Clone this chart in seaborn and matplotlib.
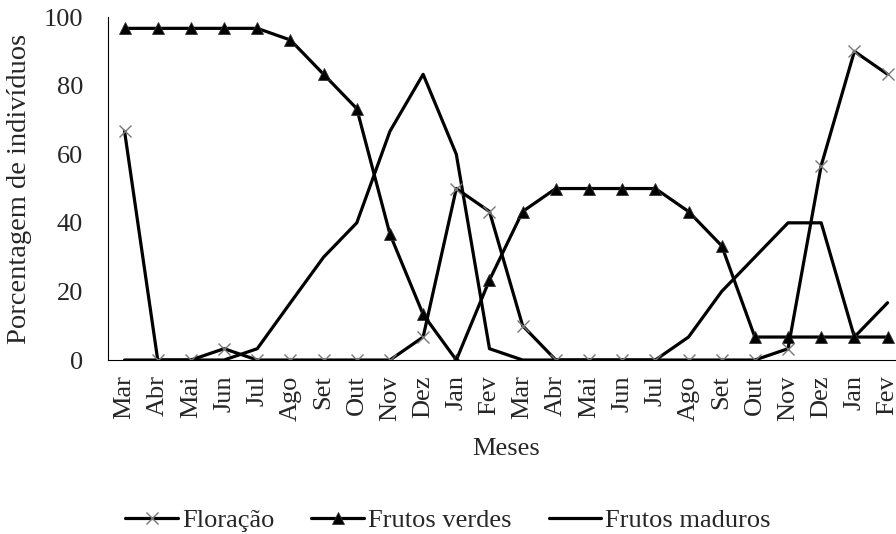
import numpy as np
import pandas as pd
import seaborn as sns
import matplotlib.pyplot as plt

meses = ["Mar", "Abr", "Mai", "Jun", "Jul", "Ago", "Set", "Out", "Nov", "Dez",
         "Jan", "Fev", "Mar", "Abr", "Mai", "Jun", "Jul", "Ago", "Set", "Out",
         "Nov", "Dez", "Jan", "Fev"]

floracao = [66.7, 0, 0, 3.3, 0, 0, 0, 0, 0, 6.7, 50, 43.3,
            10, 0, 0, 0, 0, 0, 0, 0, 3.3, 56.7, 90, 83.3]
frutos_verdes = [96.7, 96.7, 96.7, 96.7, 96.7, 93.3, 83.3, 73.3, 36.7, 13.3, 0, 23.3,
                 43.3, 50, 50, 50, 50, 43.3, 33.3, 6.7, 6.7, 6.7, 6.7, 6.7]
frutos_maduros = [0, 0, 0, 0, 3.3, 16.7, 30, 40, 66.7, 83.3, 60, 3.3,
                  0, 0, 0, 0, 0, 6.7, 20, 30, 40, 40, 6.7, 16.7]

FS = 19

sns.set_theme(style="white")
plt.rcParams["font.family"] = ["Liberation Serif", "DejaVu Serif"]

df = pd.DataFrame({
    "pos": np.arange(len(meses)),
    "Floração": floracao,
    "Frutos verdes": frutos_verdes,
    "Frutos maduros": frutos_maduros,
})

fig = plt.figure(figsize=(8.96, 5.34), dpi=100)
# axes runs slightly past the right edge, like the reference crop
ax = fig.add_axes([0.1205, 0.3258, 0.8886, 0.6423])

sns.lineplot(data=df, x="pos", y="Frutos maduros", ax=ax, color="black",
             linewidth=2.3, label="Frutos maduros")
sns.lineplot(data=df, x="pos", y="Frutos verdes", ax=ax, color="black",
             linewidth=2.3, marker="^", markersize=8.5, markeredgecolor="#333333",
             markeredgewidth=0.6, label="Frutos verdes")
sns.lineplot(data=df, x="pos", y="Floração", ax=ax, color="black",
             linewidth=2.3, marker="x", markersize=8.5, markeredgecolor="#777777",
             markeredgewidth=1.0, label="Floração")

ax.set_xlim(-0.5, len(meses) - 0.5)
ax.set_ylim(0, 100)
ax.set_xticks(np.arange(len(meses)))
ax.set_xticklabels(meses, rotation=90, fontsize=FS)
ax.set_yticks([0, 20, 40, 60, 80, 100])
ax.tick_params(axis="y", length=0, pad=18, labelsize=FS)
ax.tick_params(axis="x", length=0, pad=11)
ax.set_xlabel("Meses", fontsize=FS, labelpad=12)
ax.set_ylabel("Porcentagem de indivíduos", fontsize=20.5, labelpad=8)

for side in ["top", "right"]:
    ax.spines[side].set_visible(False)
for side in ["left", "bottom"]:
    ax.spines[side].set_color("black")
    ax.spines[side].set_linewidth(0.8)

handles, labels = ax.get_legend_handles_labels()
order = [labels.index(n) for n in ["Floração", "Frutos verdes", "Frutos maduros"]]
ax.get_legend().remove()
fig.legend([handles[i] for i in order], [labels[i] for i in order],
           loc="center", bbox_to_anchor=(0.5, 1 - 520 / 534), ncol=3,
           frameon=False, fontsize=FS, handlelength=2.0, handletextpad=0.15,
           columnspacing=1.4)

fig.savefig("out.png", dpi=100)
